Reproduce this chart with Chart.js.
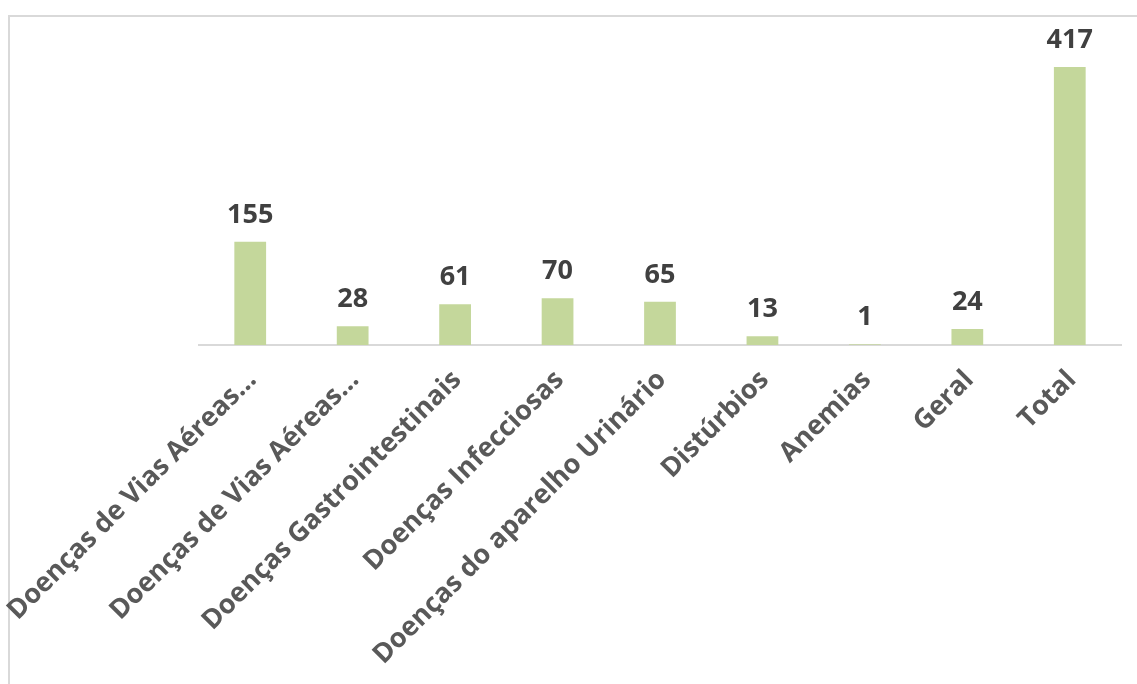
<!DOCTYPE html>
<html>
<head>
<meta charset="utf-8">
<script src="https://cdn.jsdelivr.net/npm/chart.js@4/dist/chart.umd.min.js"></script>
<style>
  html, body { margin: 0; padding: 0; background: #fff; overflow: hidden; }
  #wrap { position: relative; width: 1137px; height: 684px; }
  #frame {
    position: absolute; left: 8px; top: 15px; width: 1300px; height: 900px;
    border-left: 2px solid #d9d9d9; border-top: 2px solid #d9d9d9;
  }
  canvas { position: absolute; left: 0; top: 0; }
</style>
</head>
<body>
<div id="wrap">
  <div id="frame"></div>
  <canvas id="casosChart" width="1137" height="684"></canvas>
</div>
<script>
// dados do gráfico
const categorias = [
  'Doenças de Vias Aéreas…',
  'Doenças de Vias Aéreas…',
  'Doenças Gastrointestinais',
  'Doenças Infecciosas',
  'Doenças do aparelho Urinário',
  'Distúrbios',
  'Anemias',
  'Geral',
  'Total'
];
const casos = [155, 28, 61, 70, 65, 13, 1, 24, 417];
const eixoMax = 450;

// rótulos de valor em cima das barras
const rotulosValor = {
  id: 'rotulosValor',
  afterDatasetsDraw(chart) {
    const ctx = chart.ctx;
    const meta = chart.getDatasetMeta(0);
    ctx.save();
    ctx.font = 'bold 27px "Open Sans"';
    ctx.fillStyle = '#404040';
    ctx.textAlign = 'center';
    ctx.textBaseline = 'alphabetic';
    meta.data.forEach((bar, i) => {
      ctx.fillText(String(casos[i]), bar.x, bar.y - 19);
    });
    ctx.restore();
  }
};

const ctx = document.getElementById('casosChart').getContext('2d');
const casosChart = new Chart(ctx, {
  type: 'bar',
  data: {
    labels: categorias,
    datasets: [{
      data: casos,
      backgroundColor: '#C4D79B',
      barPercentage: 1,
      categoryPercentage: 0.31,
    }]
  },
  options: {
    responsive: false,
    animation: false,
    layout: { padding: { left: 199, right: 16, top: 45, bottom: 0 } },
    plugins: {
      legend: { display: false },
      tooltip: { enabled: false },
    },
    scales: {
      x: {
        grid: { display: false, drawTicks: false },
        border: { display: true, color: '#d9d9d9', width: 2 },
        ticks: {
          autoSkip: false,
          minRotation: 45,
          maxRotation: 45,
          padding: 19,
          labelOffset: 2,
          color: '#595959',
          font: { family: 'Open Sans', size: 27, weight: 'bold' },
        },
        afterFit: (scale) => {
          scale.height = 339;
          scale.paddingLeft = 0;
          scale.paddingRight = 0;
        },
      },
      y: {
        display: false,
        min: 0,
        max: eixoMax,
      },
    },
  },
  plugins: [rotulosValor],
});
</script>
</body>
</html>
